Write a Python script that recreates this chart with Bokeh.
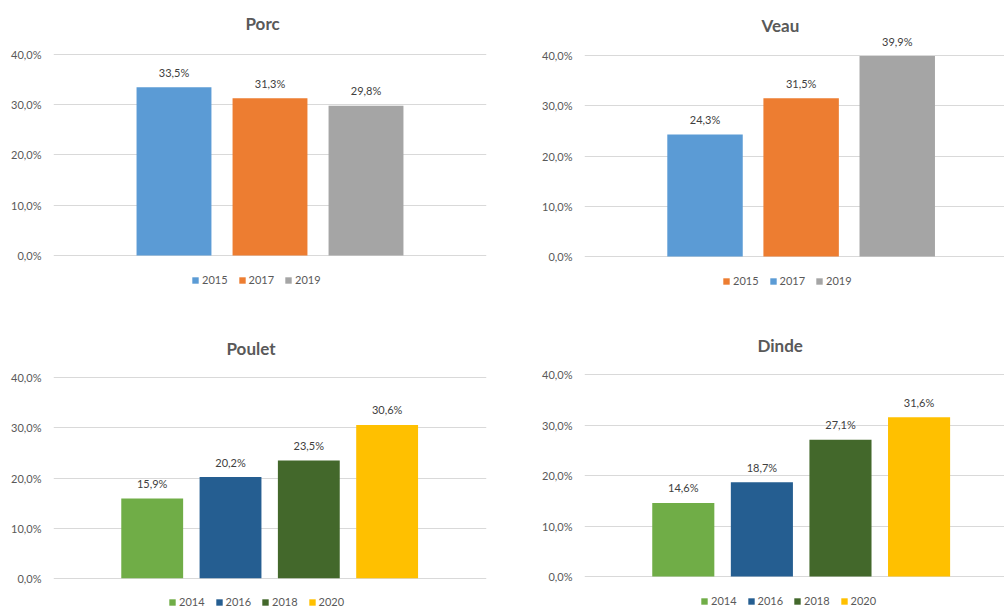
from bokeh.plotting import figure
from bokeh.layouts import row, column
from bokeh.models import ColumnDataSource, Range1d, FixedTicker, Legend, LegendItem
from bokeh.embed import file_html
from bokeh.resources import INLINE
from bokeh.core.properties import value

FONT = "Lato"

# ---- data ----
porc_years = ["2015", "2017", "2019"]
porc_values = [33.5, 31.3, 29.8]
porc_bar_colors = ["#5B9BD5", "#ED7D31", "#A5A5A5"]
porc_legend_colors = ["#5B9BD5", "#ED7D31", "#A5A5A5"]

veau_years = ["2015", "2017", "2019"]
veau_values = [24.3, 31.5, 39.9]
veau_bar_colors = ["#5B9BD5", "#ED7D31", "#A5A5A5"]
veau_legend_colors = ["#ED7D31", "#5B9BD5", "#A5A5A5"]

poulet_years = ["2014", "2016", "2018", "2020"]
poulet_values = [15.9, 20.2, 23.5, 30.6]
poulet_colors = ["#70AD47", "#255E91", "#43682B", "#FFC000"]

dinde_years = ["2014", "2016", "2018", "2020"]
dinde_values = [14.6, 18.7, 27.1, 31.6]
dinde_colors = ["#70AD47", "#255E91", "#43682B", "#FFC000"]

tick_values = [0, 10, 20, 30, 40]
tick_labels = ["0,0%", "10,0%", "20,0%", "30,0%", "40,0%"]


def fmt(v):
    return f"{v:.1f}".replace(".", ",") + "%"


def make_panel(title, years, values, bar_colors, legend_colors, w, h, bl, br, bt,
               xr, yr, bw, title_offset, title_standoff, legend_loc):
    p = figure(width=w, height=h, output_backend="svg", toolbar_location=None,
               x_range=Range1d(*xr), y_range=Range1d(*yr),
               min_border_left=bl, min_border_right=br, min_border_top=bt,
               min_border_bottom=0, x_axis_location=None, title=title)
    p.outline_line_color = None
    p.background_fill_color = "white"
    p.border_fill_color = "white"

    p.title.align = "left"
    p.title.offset = title_offset
    p.title.text_font = FONT
    p.title.text_font_size = "17px"
    p.title.text_font_style = "bold"
    p.title.text_color = "#595959"
    p.title.standoff = title_standoff

    n = len(values)
    src = ColumnDataSource(dict(x=list(range(n)), top=values, color=bar_colors,
                                label=[fmt(v) for v in values]))
    p.vbar(x="x", top="top", width=bw, fill_color="color", line_color=None, source=src)
    p.text(x="x", y="top", text="label", source=src, text_align="center",
           text_baseline="middle", y_offset=-15, text_font=value(FONT),
           text_font_size="11px", text_color="#404040")

    items = []
    for yr_, c in zip(years, legend_colors):
        r = p.vbar(x=[float("nan")], top=[float("nan")], width=bw, fill_color=c,
                   line_color=None)
        items.append(LegendItem(label=yr_, renderers=[r]))
    legend = Legend(items=items, orientation="horizontal", location=legend_loc,
                    glyph_width=8, glyph_height=8, label_height=8, label_width=10,
                    label_standoff=3, spacing=10, padding=0, margin=0,
                    border_line_color=None, background_fill_alpha=0,
                    label_text_font=FONT, label_text_font_size="11px",
                    label_text_color="#595959")
    p.add_layout(legend)

    ax = p.yaxis[0]
    ax.ticker = FixedTicker(ticks=tick_values)
    ax.major_label_overrides = dict(zip(tick_values, tick_labels))
    ax.axis_line_color = None
    ax.major_tick_line_color = None
    ax.minor_tick_line_color = None
    ax.major_tick_out = 0
    ax.major_tick_in = 0
    ax.major_label_standoff = 12
    ax.major_label_text_font = FONT
    ax.major_label_text_font_size = "11px"
    ax.major_label_text_color = "#595959"

    p.ygrid.ticker = FixedTicker(ticks=tick_values)
    p.ygrid.grid_line_color = "#D9D9D9"
    p.ygrid.grid_line_width = 1
    p.xgrid.visible = False
    return p


p1 = make_panel("Porc", porc_years, porc_values, porc_bar_colors, porc_legend_colors,
                500, 316, 53, 14, 35, (-1.255, 3.255), (-12.14, 43.78), 0.78, 192, 4, (138, 30))
p2 = make_panel("Veau", veau_years, veau_values, veau_bar_colors, veau_legend_colors,
                504, 316, 84, 0, 35, (-1.254, 3.116), (-11.94, 43.98), 0.785, 177, 0, (138, 29))
p3 = make_panel("Poulet", poulet_years, poulet_values, poulet_colors, poulet_colors,
                500, 292, 53, 14, 50, (-1.2605, 4.269), (-6.05, 42.26), 0.79, 173, 16, (115, 0))
p4 = make_panel("Dinde", dinde_years, dinde_values, dinde_colors, dinde_colors,
                504, 292, 84, 0, 50, (-1.257, 4.087), (-6.35, 41.65), 0.79, 173, 21, (116, 1))

layout = column(row(p1, p2), row(p3, p4))

open("out.html", "w").write(file_html(layout, INLINE))
